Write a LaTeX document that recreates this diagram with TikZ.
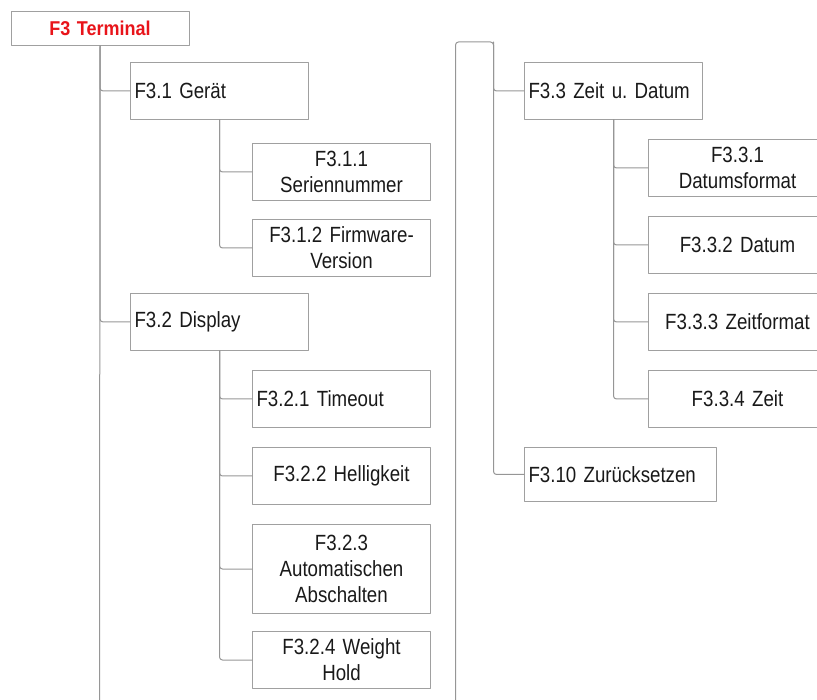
\documentclass[tikz,border=0pt]{standalone}
\usepackage{fontspec}
\setmainfont{Liberation Sans}[FakeStretch=0.85, WordSpace=0.65]
\newfontfamily\titlefont{Liberation Sans}[FakeStretch=0.9]
\usepackage{xcolor}
\definecolor{linegray}{RGB}{150,150,150}
\definecolor{boxgray}{RGB}{160,160,160}
\definecolor{titlered}{RGB}{232,20,26}
\definecolor{textblack}{RGB}{25,25,25}
\frenchspacing

\begin{document}
\begin{tikzpicture}[x=1pt, y=-1pt, line cap=round, line join=round,
		box/.style={draw=boxgray, line width=1pt, anchor=north west, minimum height=57pt,
			inner xsep=4pt, inner ysep=2pt, text width=170pt, text=textblack,
			font=\fontsize{22}{26}\selectfont},
		lbox/.style={box, align=left},
		cbox/.style={box, align=center},
		conn/.style={draw=linegray, line width=1pt, rounded corners=3pt}]
		
		\useasboundingbox (0,0) rectangle (817,700);
		
		% Root
		\node[box, align=center, minimum height=34pt, font=\titlefont\fontsize{20}{24}\bfseries, text=titlered]
		(term) at (10.5,11) {F3 Terminal};
		
		% Left column
		\node[lbox] (g31) at (130,62) {F3.1 Gerät};
		\node[cbox] (g311) at (252,143) {F3.1.1\\Seriennummer};
		\node[cbox] (g312) at (252,219) {F3.1.2 Firmware-\\Version};
		
		\node[lbox] (g32) at (130,293) {F3.2 Display};
		\node[lbox] (g321) at (252,370) {F3.2.1 Timeout};
		\node[cbox] (g322) at (252,447) {F3.2.2 Helligkeit};
		\node[cbox, minimum height=89pt] (g323) at (252,524) {F3.2.3\\Automatischen\\Abschalten};
		\node[cbox] (g324) at (252,631) {F3.2.4 Weight\\Hold};
		
		% Right column
		\node[lbox] (g33) at (524,62) {F3.3 Zeit u. Datum};
		\node[cbox] (g331) at (648,139) {F3.3.1\\Datumsformat};
		\node[cbox] (g332) at (648,216) {F3.3.2 Datum};
		\node[cbox] (g333) at (648,293) {F3.3.3 Zeitformat};
		\node[cbox] (g334) at (648,370) {F3.3.4 Zeit};
		
		\node[lbox, text width=184pt, minimum height=54pt] (g310) at (524,447) {F3.10 Zurücksetzen};
		
		% Trunks
		\coordinate (leftend) at (99.5,700);
		\coordinate (rightend) at (455.5,700);
		\coordinate (rightturn) at (493.5,42);
		
		\draw[conn] (term.south) -- (leftend);
		\draw[conn] (term.south) |- (g31.west);
		\draw[conn] (term.south) |- (g32.west);
		
		\draw[conn] (g31.south) |- (g311.west);
		\draw[conn] (g31.south) |- (g312.west);
		
		\draw[conn] (g32.south) |- (g321.west);
		\draw[conn] (g32.south) |- (g322.west);
		\draw[conn] (g32.south) |- (g323.west);
		\draw[conn] (g32.south) |- (g324.west);
		
		\draw[conn] (rightend) |- (rightturn) |- (g310.west);
		\draw[conn] (rightturn) |- (g33.west);
		
		\draw[conn] (g33.south) |- (g331.west);
		\draw[conn] (g33.south) |- (g332.west);
		\draw[conn] (g33.south) |- (g333.west);
		\draw[conn] (g33.south) |- (g334.west);
		
	\end{tikzpicture}
\end{document}
